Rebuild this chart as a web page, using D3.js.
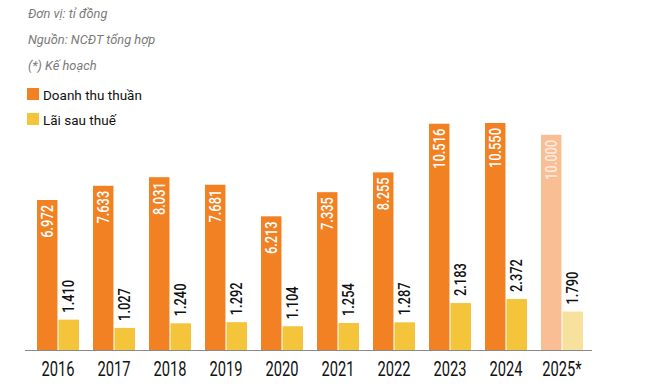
<!DOCTYPE html>
<html>
<head>
<meta charset="utf-8">
<script src="https://cdn.jsdelivr.net/npm/d3@7"></script>
<style>
  html, body { margin: 0; padding: 0; background: #fff; }
  svg { display: block; }
</style>
</head>
<body>
<svg id="chart" width="653" height="389"></svg>
<script>
const years = ["2016","2017","2018","2019","2020","2021","2022","2023","2024","2025*"];
const revenue = [6972, 7633, 8031, 7681, 6213, 7335, 8255, 10516, 10550, 10000];
const profit = [1410, 1027, 1240, 1292, 1104, 1254, 1287, 2183, 2372, 1790];
const planned = [false,false,false,false,false,false,false,false,false,true];
const seriesNames = ["Doanh thu thuần", "Lãi sau thuế"];
const notes = ["Đơn vị: tỉ đồng", "Nguồn: NCĐT tổng hợp", "(*) Kế hoạch"];

const fmt = v => d3.format(",")(v).replace(/,/g, ".");

const colors = { rev: "#F28124", profit: "#F4C43A", revPlan: "#F9BE93", profitPlan: "#F7E19C" };

const svg = d3.select("#chart");
const data = years.map((y, i) => ({ year: y, rev: revenue[i], profit: profit[i], plan: planned[i] }));

const x0 = d3.scaleBand().domain(years).range([30, 590]).paddingInner(0.25).paddingOuter(0.125);
const x1 = d3.scaleBand().domain(["rev", "profit"]).range([0, x0.bandwidth()]).paddingInner(0.05);
const y = d3.scaleLinear().domain([0, 10550]).range([350, 123]);

// notes
svg.append("g").selectAll("text").data(notes).join("text")
  .attr("transform", (d, i) => `translate(28, ${18 + i * 26}) scale(0.95,1)`)
  .attr("font-family", "Roboto, sans-serif")
  .attr("font-style", "italic")
  .attr("font-size", 13.5)
  .attr("fill", "#7a7a7a")
  .text(d => d);

// legend
const leg = svg.append("g").selectAll("g").data(seriesNames).join("g")
  .attr("transform", (d, i) => `translate(27, ${88 + i * 25})`);
leg.append("rect").attr("width", 12).attr("height", 12)
  .attr("fill", (d, i) => i === 0 ? colors.rev : colors.profit);
leg.append("text").attr("x", 16).attr("y", 11.5)
  .attr("font-family", "Roboto, sans-serif").attr("font-size", 13.5).attr("fill", "#111")
  .text(d => d);

// bars
const groups = svg.append("g").selectAll("g").data(data).join("g")
  .attr("transform", d => `translate(${x0(d.year)},0)`);

groups.append("rect")
  .attr("x", x1("rev")).attr("width", x1.bandwidth())
  .attr("y", d => y(d.rev)).attr("height", d => y(0) - y(d.rev))
  .attr("fill", d => d.plan ? colors.revPlan : colors.rev);

groups.append("rect")
  .attr("x", x1("profit")).attr("width", x1.bandwidth())
  .attr("y", d => y(d.profit)).attr("height", d => y(0) - y(d.profit))
  .attr("fill", d => d.plan ? colors.profitPlan : colors.profit);

// revenue labels (inside, rotated)
groups.append("text")
  .attr("transform", d => `translate(${x1("rev") + x1.bandwidth() / 2 + 0.5}, ${y(d.rev) + 5}) rotate(-90) scale(0.78,1)`)
  .attr("text-anchor", "end")
  .attr("dominant-baseline", "central")
  .attr("font-family", "Roboto, sans-serif").attr("font-size", 16.5).attr("font-weight", 500)
  .attr("fill", d => d.plan ? "#FDEBDD" : "#fff")
  .text(d => fmt(d.rev));

// profit labels (above, rotated)
groups.append("text")
  .attr("transform", d => `translate(${x1("profit") + x1.bandwidth() / 2}, ${y(d.profit) - 7}) rotate(-90) scale(0.78,1)`)
  .attr("text-anchor", "start")
  .attr("dominant-baseline", "central")
  .attr("font-family", "Roboto, sans-serif").attr("font-size", 16.5).attr("font-weight", 500)
  .attr("fill", "#111")
  .text(d => fmt(d.profit));

// baseline
svg.append("line").attr("x1", 25).attr("x2", 592).attr("y1", y(0) + 0.5).attr("y2", y(0) + 0.5)
  .attr("stroke", "#8a8a8a").attr("stroke-width", 1);

// x axis labels
const xAxis = svg.append("g").attr("transform", `translate(0, ${y(0)})`)
  .call(d3.axisBottom(x0).tickSize(0).tickPadding(0));
xAxis.select(".domain").remove();
xAxis.selectAll("text")
  .attr("font-family", "Roboto, sans-serif").attr("font-size", 21).attr("fill", "#111")
  .attr("dy", null).attr("y", 26)
  .attr("transform", "scale(0.7,1)");
</script>
</body>
</html>
